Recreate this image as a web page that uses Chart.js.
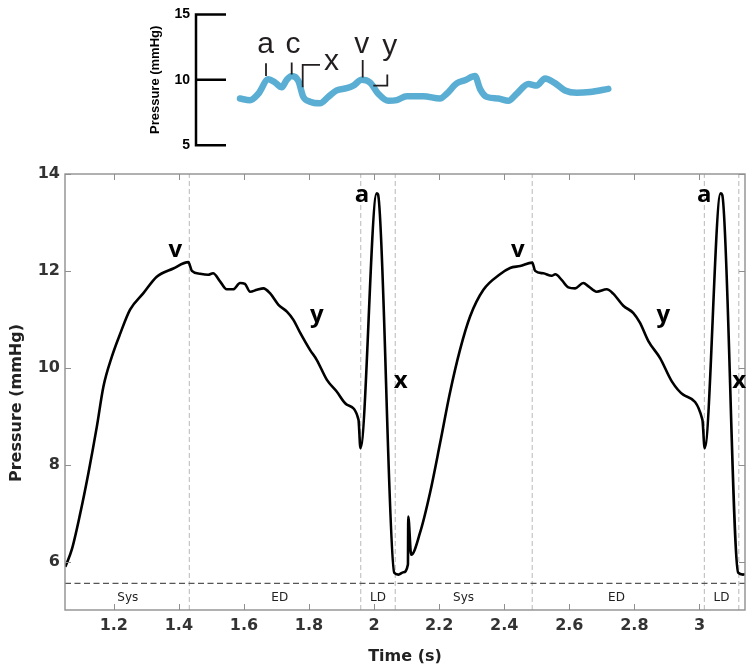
<!DOCTYPE html>
<html><head><meta charset="utf-8">
<script src="https://cdn.jsdelivr.net/npm/chart.js@4.4.0/dist/chart.umd.min.js"></script>
<style>
html,body{margin:0;padding:0;background:#fff;}
#wrap{position:relative;width:746px;height:671px;overflow:hidden;}
#main{position:absolute;left:0;top:0;}
#inset{position:absolute;left:0;top:0;}
</style></head><body>
<div id="wrap">
<canvas id="main" width="746" height="671"></canvas>
<canvas id="inset" width="746" height="160"></canvas>
</div>
<script>
// ---------- Main chart data ----------
const time = [1.051,1.071,1.097,1.122,1.148,1.168,1.194,1.22,1.25,1.291,1.332,1.383,1.429,1.44,1.465,1.49,1.505,1.527,1.547,1.567,1.588,1.603,1.619,1.64,1.66,1.68,1.706,1.732,1.752,1.773,1.803,1.824,1.855,1.885,1.916,1.952,1.958,2.008,2.012,2.062,2.075,2.09,2.104,2.105,2.114,2.141,2.172,2.203,2.233,2.264,2.295,2.336,2.387,2.418,2.449,2.486,2.495,2.52,2.546,2.557,2.577,2.597,2.618,2.643,2.659,2.684,2.715,2.735,2.766,2.797,2.817,2.843,2.879,2.915,2.951,3.009,3.016,3.065,3.070,3.119,3.134,3.14];
const pressure = [5.89,6.25,7.0,7.83,8.79,9.61,10.23,10.71,11.2,11.54,11.88,12.05,12.18,12.0,11.94,11.92,11.95,11.78,11.62,11.62,11.75,11.73,11.57,11.61,11.64,11.54,11.3,11.16,10.99,10.72,10.37,10.16,9.75,9.51,9.24,8.93,8.34,13.6,13.58,5.77,5.73,5.78,5.94,6.93,6.14,6.59,7.42,8.45,9.48,10.37,11.06,11.61,11.93,12.06,12.1,12.17,12.0,11.95,11.9,11.93,11.81,11.66,11.64,11.75,11.68,11.57,11.62,11.53,11.28,11.13,10.93,10.55,10.2,9.72,9.44,8.93,8.34,13.6,13.57,5.77,5.73,5.74];
const xTickValues = [1.2,1.4,1.6,1.8,2.0,2.2,2.4,2.6,2.8,3.0];
const yTickValues = [6,8,10,12,14];
const xRange = [1.05,3.14];
const yRange = [5,14];
const phaseBoundaries = [1.432,1.959,2.065,2.486,3.015,3.121];
const phaseLineLevel = 5.55;
const phaseLabels = ['Sys','ED','LD','Sys','ED','LD'];
const phaseLabelTimes = [1.243,1.71,2.012,2.275,2.745,3.068];
const phaseLabelLevel = 5.25;
const waveLabels = ['v','a','y','x','v','a','y','x'];
const waveLabelTimes = [1.389,1.963,1.824,2.082,2.442,3.015,2.889,3.122];
const waveLabelLevels = [12.29,13.42,10.95,9.59,12.29,13.42,10.95,9.59];
const yTitle = 'Pressure (mmHg)';
const xTitle = 'Time (s)';

// ---------- Inset data ----------
const insetTime = [0,0.10,0.183,0.283,0.35,0.417,0.467,0.517,0.583,0.633,0.70,0.80,0.883,0.967,1.067,1.133,1.217,1.30,1.383,1.483,1.567,1.667,1.833,2.00,2.067,2.167,2.25,2.35,2.40,2.467,2.583,2.683,2.767,2.883,2.967,3.05,3.15,3.25,3.367,3.50,3.683];
const insetPressure = [8.57,8.45,8.94,10.04,9.8,9.43,10.0,10.29,9.93,8.70,8.33,8.21,8.7,9.19,9.36,9.56,10.0,9.8,8.94,8.40,8.45,8.75,8.75,8.57,8.94,9.73,9.97,10.29,9.31,8.70,8.57,8.40,8.94,9.68,9.56,10.1,9.75,9.19,9.01,9.07,9.31];
const insetTicks = [5,10,15];
const insetRange = [-0.44,3.72];
const insetLabels = ['a','c','x','v','y'];
const insetLabelTimes = [0.255,0.53,0.915,1.217,1.497];
const insetLabelLevels = [12.06,12.06,10.78,12.06,11.93];
const insetMarkTimes = [[0.26,0.26],[0.517,0.517],[0.80,0.627,0.627],[1.227,1.227],[1.333,1.473,1.473]];
const insetMarkLevels = [[11.27,10.29],[11.32,10.41],[11.15,11.15,9.43],[11.51,10.17],[9.56,9.56,10.41]];

// ---------- Main chart ----------
const pts = (xs, ys) => xs.map((x, i) => ({x: x, y: ys[i]}));
const mainDatasets = [{
  data: pts(time, pressure),
  borderColor: '#000', borderWidth: 2.6, pointRadius: 0,
  cubicInterpolationMode: 'monotone', order: 0
}];
phaseBoundaries.forEach(b => mainDatasets.push({
  data: pts([b, b], yRange), borderColor: '#b8b8b8', borderWidth: 1,
  borderDash: [5, 3], pointRadius: 0, order: 2
}));
mainDatasets.push({
  data: pts(xRange, [phaseLineLevel, phaseLineLevel]), borderColor: '#555',
  borderWidth: 1.3, borderDash: [6, 3.5], pointRadius: 0, order: 1
});

const mainDeco = {
  id: 'mainDeco',
  afterDatasetsDraw(chart) {
    const {ctx, chartArea: a, scales: {x, y}} = chart;
    ctx.save();
    ctx.strokeStyle = '#8f8f8f'; ctx.lineWidth = 1.4;
    ctx.strokeRect(a.left, a.top, a.right - a.left, a.bottom - a.top);
    const tl = 6;
    ctx.beginPath();
    x.ticks.forEach(t => {
      const px = Math.round(x.getPixelForValue(t.value)) + 0.5;
      ctx.moveTo(px, a.bottom); ctx.lineTo(px, a.bottom - tl);
      ctx.moveTo(px, a.top); ctx.lineTo(px, a.top + tl);
    });
    y.ticks.forEach(t => {
      const py = Math.round(y.getPixelForValue(t.value)) + 0.5;
      ctx.moveTo(a.left, py); ctx.lineTo(a.left + tl, py);
      ctx.moveTo(a.right, py); ctx.lineTo(a.right - tl, py);
    });
    ctx.lineWidth = 1; ctx.stroke();
    ctx.fillStyle = '#222';
    ctx.font = '12px "DejaVu Sans"';
    ctx.textAlign = 'center'; ctx.textBaseline = 'middle';
    phaseLabels.forEach((s, i) => ctx.fillText(s, x.getPixelForValue(phaseLabelTimes[i]), y.getPixelForValue(phaseLabelLevel)));
    ctx.fillStyle = '#000';
    ctx.font = 'bold 24px "Open Sans"';
    ctx.textBaseline = 'alphabetic';
    waveLabels.forEach((s, i) => ctx.fillText(s, x.getPixelForValue(waveLabelTimes[i]), y.getPixelForValue(waveLabelLevels[i])));
    // y-axis title, centred slightly below the plot middle as in the source figure
    ctx.save();
    ctx.translate(16.6, (a.top + a.bottom) / 2 + 11);
    ctx.rotate(-Math.PI / 2);
    ctx.fillStyle = '#222';
    ctx.font = 'bold 16px "DejaVu Sans"';
    ctx.textBaseline = 'middle';
    ctx.fillText(yTitle, 0, 0);
    ctx.restore();
    ctx.restore();
  }
};

new Chart(document.getElementById('main'), {
  type: 'line',
  data: {datasets: mainDatasets},
  options: {
    responsive: false, animation: false, events: [],
    layout: {padding: {top: 174, right: 1, left: 0, bottom: 0}},
    plugins: {legend: {display: false}, tooltip: {enabled: false}},
    scales: {
      x: {
        type: 'linear', min: xRange[0], max: xRange[1],
        afterBuildTicks: s => { s.ticks = xTickValues.map(v => ({value: v})); },
        afterFit: s => { s.height = 61; },
        grid: {display: false, drawTicks: false},
        border: {display: false},
        ticks: {font: {family: 'DejaVu Sans', weight: 'bold', size: 16}, color: '#333', padding: 6, maxRotation: 0, autoSkip: false,
          callback: v => String(Number(v.toFixed(1)))},
        title: {display: true, text: xTitle, font: {family: 'DejaVu Sans', weight: 'bold', size: 16}, color: '#222', padding: {top: 0, bottom: 4.4}}
      },
      y: {
        type: 'linear', min: yRange[0], max: yRange[1],
        afterBuildTicks: s => { s.ticks = yTickValues.map(v => ({value: v})); },
        afterFit: s => { s.width = 65; },
        grid: {display: false, drawTicks: false},
        border: {display: false},
        ticks: {font: {family: 'DejaVu Sans', weight: 'bold', size: 16}, color: '#333', padding: 5},
        title: {display: false}
      }
    }
  },
  plugins: [mainDeco]
});

// ---------- Inset chart ----------
const insetDatasets = [{
  data: pts(insetTime, insetPressure), borderColor: '#5aaed3', borderWidth: 6.5,
  pointRadius: 0, cubicInterpolationMode: 'monotone', borderCapStyle: 'round',
  borderJoinStyle: 'round', clip: false, order: 1
}];
insetMarkTimes.forEach((xs, i) => insetDatasets.push({
  data: pts(xs, insetMarkLevels[i]), borderColor: '#231f20', borderWidth: 1.8,
  pointRadius: 0, tension: 0, clip: false, order: 0
}));

const insetDeco = {
  id: 'insetDeco',
  afterDatasetsDraw(chart) {
    const {ctx, chartArea: a, scales: {x, y}} = chart;
    ctx.save();
    ctx.strokeStyle = '#000'; ctx.lineWidth = 2.5;
    ctx.beginPath();
    y.ticks.forEach(t => {
      const py = y.getPixelForValue(t.value);
      ctx.moveTo(a.left, py); ctx.lineTo(a.left + 30, py);
    });
    ctx.moveTo(a.left, y.getPixelForValue(insetTicks[0]) + 1.25);
    ctx.lineTo(a.left, y.getPixelForValue(insetTicks[insetTicks.length - 1]) - 1.25);
    ctx.stroke();
    ctx.fillStyle = '#231f20';
    ctx.font = '30px "Liberation Sans"';
    ctx.textAlign = 'center'; ctx.textBaseline = 'alphabetic';
    insetLabels.forEach((s, i) => ctx.fillText(s, x.getPixelForValue(insetLabelTimes[i]), y.getPixelForValue(insetLabelLevels[i])));
    ctx.restore();
  }
};

new Chart(document.getElementById('inset'), {
  type: 'line',
  data: {datasets: insetDatasets},
  options: {
    responsive: false, animation: false, events: [],
    layout: {padding: {top: 9.3, right: 134, left: 140, bottom: 14.7}},
    plugins: {legend: {display: false}, tooltip: {enabled: false}},
    scales: {
      x: {type: 'linear', min: insetRange[0], max: insetRange[1], display: false},
      y: {
        type: 'linear', min: 5, max: 15,
        afterBuildTicks: s => { s.ticks = insetTicks.map(v => ({value: v})); },
        afterFit: s => { s.width = 56; },
        grid: {display: false, drawTicks: false},
        border: {display: false},
        ticks: {font: {family: 'Liberation Sans', weight: 'bold', size: 14}, color: '#000', padding: 6},
        title: {display: true, text: 'Pressure (mmHg)', font: {family: 'Liberation Sans', weight: 'bold', size: 13}, color: '#000', padding: {top: 7.2, bottom: 0}}
      }
    }
  },
  plugins: [insetDeco]
});
</script>
</body></html>
